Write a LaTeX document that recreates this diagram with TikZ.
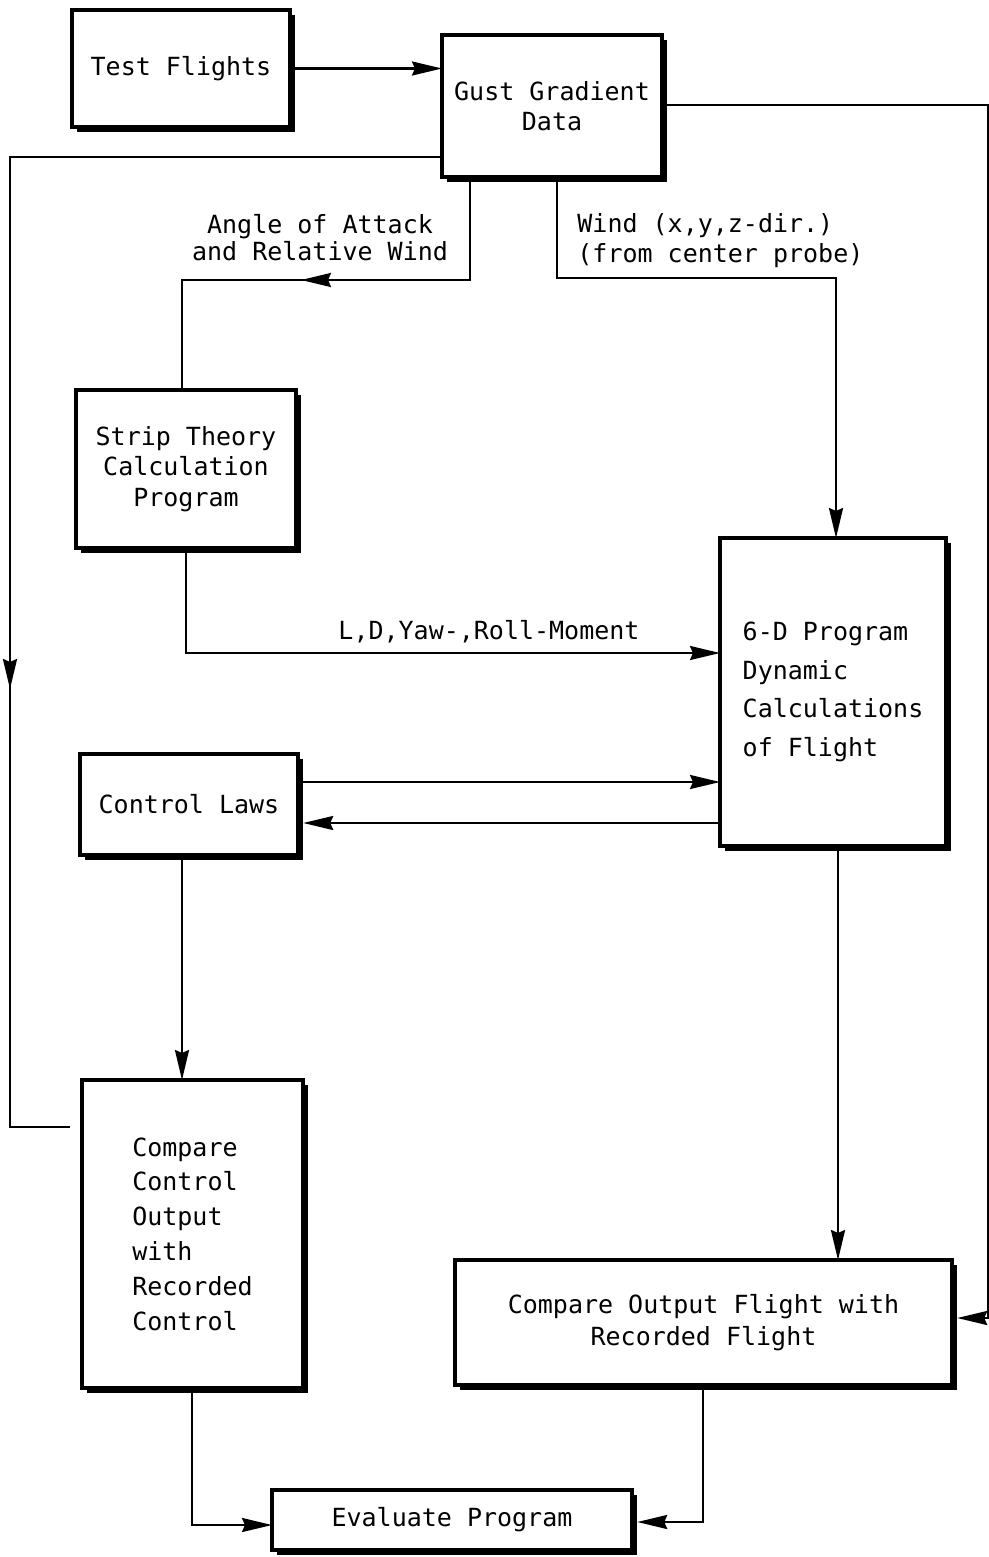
\documentclass[tikz,border=0pt]{standalone}
\usepackage{fontspec}
\setmonofont{DejaVu Sans Mono}
\usetikzlibrary{arrows.meta,shadows,decorations.markings}
\begin{document}
\begin{tikzpicture}[x=0.5pt,y=-0.5pt,
  box/.style={draw, line width=1.6pt, fill=white, inner sep=0pt, outer sep=0pt,
    font=\ttfamily\fontsize{12.5}{15}\selectfont,
    drop shadow={shadow xshift=2.6pt, shadow yshift=-2.6pt, fill=black, opacity=1}},
  tip/.tip={Stealth[length=15pt,width=7pt,inset=1.5pt]},
  arr/.style={-tip},
  conn/.style={line width=1.2pt},
  lbl/.style={font=\ttfamily\fontsize{12.5}{13.5}\selectfont, inner sep=0pt},
  midarrow/.style={postaction={decorate}, decoration={markings,
    mark=at position #1 with {\arrow{tip}}}}]
\useasboundingbox (0,0) rectangle (989,1557);
\fill[white] (0,0) rectangle (989,1557);

% boxes
\node[box, minimum width=109pt, minimum height=58.5pt] (tf) at (181,68.5) {Test Flights};
\node[box, minimum width=110pt, minimum height=71pt, align=center] (gust) at (552,106) {Gust Gradient\\Data};
\node[box, minimum width=110pt, minimum height=79pt, align=center,
  font=\ttfamily\fontsize{12.5}{15.25}\selectfont] (strip) at (186,469) {Strip Theory\\Calculation\\Program};
\node[box, minimum width=113pt, minimum height=154pt, align=left,
  font=\ttfamily\fontsize{12.5}{19.3}\selectfont] (six) at (833,692) {6-D Program\\Dynamic\\Calculations\\of Flight};
\node[box, minimum width=109pt, minimum height=50.5pt] (ctrl) at (189,804.5) {Control Laws};
\node[box, minimum width=110.5pt, minimum height=154pt, align=left,
  font=\ttfamily\fontsize{12.5}{17.4}\selectfont] (cmpc) at (192.5,1234) {Compare\\Control\\Output\\with\\Recorded\\Control};
\node[box, minimum width=248.5pt, minimum height=62.5pt, align=center,
  font=\ttfamily\fontsize{12.5}{16}\selectfont] (cmpo) at (703.5,1322.5) {Compare Output Flight with\\Recorded Flight};
\node[box, minimum width=180pt, minimum height=30pt] (eval) at (452,1520) {Evaluate Program};

% corner coordinates
\coordinate (c1) at (10,157);
\coordinate (c2) at (10,1127);
\coordinate (a1) at (470,280);
\coordinate (a2) at (182,280);
\coordinate (w1) at (557,278);
\coordinate (w2) at (836,278);
\coordinate (r1) at (988,105);
\coordinate (r2) at (988,1318);
\coordinate (s1) at (186,653);
\coordinate (k1) at (300,782);
\coordinate (k2) at (300,823);
\coordinate (k3) at (182,900);
\coordinate (k4) at (838,900);
\coordinate (e1) at (192,1525);
\coordinate (e2) at (703,1522);

% connectors
\draw[conn,arr] (tf.east) -- (tf.east -| gust.west);
\draw[conn,midarrow=482pt] (gust.west |- c1) -- (c1) -- (c2) -- ([xshift=-6pt]cmpc.west |- c2);
\draw[conn,midarrow=136pt] (gust.south -| a1) -- (a1) -- (a2) -- (strip.north -| a2);
\draw[conn,arr] (gust.south -| w1) -- (w1) -- (w2) -- (six.north -| w2);
\draw[conn,arr] (gust.east |- r1) -- (r1) -- (r2) -- ([xshift=2.6pt]cmpo.east |- r2);
\draw[conn,arr] (strip.south -| s1) -- (s1) -- (six.west |- s1);
\draw[conn,arr] (ctrl.east |- k1) -- (six.west |- k1);
\draw[conn,arr] (six.west |- k2) -- ([xshift=2.6pt]ctrl.east |- k2);
\draw[conn,arr] (ctrl.south -| k3) -- (cmpc.north -| k3);
\draw[conn,arr] (six.south -| k4) -- (cmpo.north -| k4);
\draw[conn,arr] (cmpc.south -| e1) -- (e1) -- (eval.west |- e1);
\draw[conn,arr] (cmpo.south -| e2) -- (e2) -- ([xshift=2.6pt]eval.east |- e2);

% labels
\node[lbl, align=center] (lang) at (320,237.5) {Angle of Attack\\and Relative Wind};
\node[lbl, align=left, anchor=west, font=\ttfamily\fontsize{12.5}{15}\selectfont] (lwind) at (577,241) {Wind (x,y,z-dir.)\\(from center probe)};
\node[lbl] (lld) at (489,632) {L,D,Yaw-,Roll-Moment};
\end{tikzpicture}
\end{document}
